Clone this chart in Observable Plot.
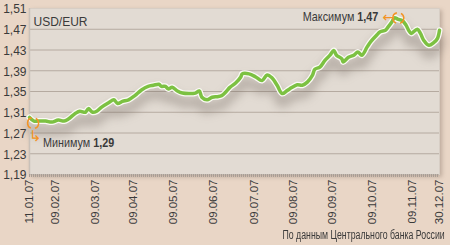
<!DOCTYPE html>
<html><head><meta charset="utf-8">
<script src="https://cdn.jsdelivr.net/npm/d3@7"></script>
<script src="https://cdn.jsdelivr.net/npm/@observablehq/plot@0.6"></script>
<style>
html,body{margin:0;padding:0;background:#e9d6c6;}
#wrap{width:450px;height:245px;overflow:hidden;font-family:"Liberation Sans Narrow","Arial Narrow",sans-serif;}
#caption{height:20px;line-height:20px;text-align:right;padding-right:5px;font-size:12.5px;color:#3a3a3a;font-family:"Liberation Sans",Arial,sans-serif;}
#caption span{display:inline-block;transform:scaleX(0.7);transform-origin:right center;white-space:nowrap;}
</style></head><body><div id="wrap"><div id="chart"></div><div id="caption"><span></span></div></div>
<script>
const dates = ["2007-01-11","2007-01-16","2007-01-21","2007-01-29","2007-02-05","2007-02-11","2007-02-15","2007-02-18","2007-02-23","2007-02-26",
"2007-03-02","2007-03-04","2007-03-07","2007-03-10","2007-03-14","2007-03-20","2007-03-24","2007-03-27","2007-03-31","2007-04-05",
"2007-04-10","2007-04-15","2007-04-20","2007-04-24","2007-04-28","2007-04-30","2007-05-03","2007-05-05","2007-05-08","2007-05-12",
"2007-05-16","2007-05-21","2007-05-26","2007-05-29","2007-05-31","2007-06-04","2007-06-08","2007-06-12","2007-06-15","2007-06-18",
"2007-06-21","2007-06-25","2007-06-29","2007-06-30","2007-07-05","2007-07-10","2007-07-15","2007-07-19","2007-07-23","2007-07-27",
"2007-07-31","2007-08-04","2007-08-08","2007-08-12","2007-08-16","2007-08-20","2007-08-24","2007-08-26","2007-08-30","2007-09-03",
"2007-09-07","2007-09-10","2007-09-12","2007-09-16","2007-09-17","2007-09-21","2007-09-25","2007-09-28","2007-10-01","2007-10-05",
"2007-10-08","2007-10-12","2007-10-15","2007-10-19","2007-10-21","2007-10-24","2007-10-26","2007-10-29","2007-11-01","2007-11-04",
"2007-11-06","2007-11-08","2007-11-18","2007-11-24","2007-11-30","2007-12-10","2007-12-19","2007-12-26","2007-12-30"];
const rates = [1.300,1.293,1.293,1.293,1.291,1.295,1.293,1.297,1.308,1.312,
1.310,1.317,1.310,1.312,1.320,1.329,1.334,1.327,1.331,1.334,
1.342,1.353,1.360,1.362,1.364,1.360,1.360,1.355,1.358,1.351,
1.347,1.346,1.347,1.351,1.339,1.334,1.339,1.340,1.342,1.349,
1.358,1.366,1.378,1.384,1.384,1.378,1.371,1.382,1.376,1.362,
1.346,1.352,1.358,1.363,1.362,1.368,1.381,1.393,1.397,1.410,
1.420,1.429,1.420,1.413,1.407,1.416,1.420,1.426,1.420,1.436,
1.447,1.458,1.465,1.468,1.474,1.484,1.492,1.489,1.487,1.478,
1.468,1.462,1.470,1.462,1.449,1.439,1.444,1.452,1.468];
const xTicks = ["2007-01-11","2007-02-09","2007-03-09","2007-04-09","2007-05-09","2007-06-09","2007-07-09","2007-08-09","2007-09-09","2007-10-09","2007-11-09","2007-12-30"];
const yTicks = [1.19,1.23,1.27,1.31,1.35,1.39,1.43,1.47,1.51];
const seriesName = "USD/EUR";
const minText = ["Минимум", "1,29"];
const minPoint = {date: "2007-01-15", value: 1.289};
const maxText = ["Максимум", "1,47"];
const maxPoint = {date: "2007-10-29", value: 1.4915};
const source = "По данным Центрального банка России";

const data = dates.map((d, i) => ({date: new Date(d), rate: rates[i]}));
const tickDates = xTicks.map(d => new Date(d));
const minP = [{date: new Date(minPoint.date), value: minPoint.value}];
const maxP = [{date: new Date(maxPoint.date), value: maxPoint.value}];
const orange = "#f39324";
const green = "#7cc142";
const curve = "catmull-rom";
const narrow = '"Liberation Sans Narrow","Arial Narrow",sans-serif';
const wide = '"Liberation Sans",Arial,sans-serif';

const plot = Plot.plot({
  width: 450, height: 225,
  marginLeft: 29, marginRight: 11, marginTop: 8, marginBottom: 51,
  style: {background: "transparent", fontFamily: narrow, color: "#3a3a3a"},
  x: {type: "utc", domain: tickDates, range: [29, 55, 95, 133, 173, 213, 254, 293, 332, 372, 412, 439]},
  y: {domain: [yTicks[0], yTicks[yTicks.length - 1]]},
  marks: [
    Plot.frame({fill: "#e2dbd3", stroke: "#d7cec5"}),
    Plot.gridY(yTicks.slice(1, -1), {stroke: "#b5aaa0", strokeOpacity: 1}),
    Plot.line(data, {x: "date", y: "rate", stroke: "#6a5e56", strokeWidth: 10, strokeOpacity: 0.35, dy: 9, curve}),
    Plot.ruleX([tickDates[0]], {stroke: "#c9c1b9", strokeWidth: 1.5}),
    Plot.ruleY([yTicks[0]], {stroke: "#c4bab1"}),
    Plot.ruleY([yTicks[0]], {stroke: "#a89e95", strokeWidth: 3, strokeDasharray: "1,1", dy: 1}),
    Plot.line(data, {x: "date", y: "rate", stroke: "#fbfaf5", strokeWidth: 6, curve}),
    Plot.line(data, {x: "date", y: "rate", stroke: green, strokeWidth: 3.5, curve}),
    Plot.axisY(yTicks, {tickSize: 0, tickPadding: 3, fontSize: 12, tickFormat: d => d.toFixed(2).replace(".", ","), dy: 1}),
    Plot.axisX(tickDates, {tickSize: 0, tickPadding: 5, tickRotate: -90, fontSize: 11.5, tickFormat: d3.utcFormat("%d.%m.%y")}),
    Plot.text([seriesName], {frameAnchor: "top-left", dx: 4, dy: 9, textAnchor: "start", fontSize: 12}),
    Plot.dot(minP, {x: "date", y: "value", r: 5.5, stroke: orange, strokeWidth: 1.5, fill: "none", strokeDasharray: "6.5,4.3,13,4.3,6.5,0"}),
    Plot.text(minP, {x: "date", y: "value", text: () => "↳", fill: orange, fontSize: 15, dx: -4, dy: 13, textAnchor: "start", fontFamily: "DejaVu Sans"}),
    Plot.text(minP, {x: "date", y: "value", text: () => minText.join(" "), dx: 10, dy: 20, textAnchor: "start", fontSize: 13, fontFamily: wide}),
    Plot.dot(maxP, {x: "date", y: "value", r: 5.5, stroke: orange, strokeWidth: 1.5, fill: "none", strokeDasharray: "6.5,4.3,13,4.3,6.5,0"}),
    Plot.text(maxP, {x: "date", y: "value", text: () => "←", fill: orange, fontSize: 14, dx: -4, dy: -1, textAnchor: "end", fontFamily: "DejaVu Sans"}),
    Plot.text(maxP, {x: "date", y: "value", text: () => maxText.join(" "), dx: -20, dy: -1, textAnchor: "end", fontSize: 13, fontFamily: wide})
  ]
});

document.getElementById("chart").appendChild(plot);
document.querySelector("#caption span").textContent = source;

// bold numbers inside annotation texts; whole text narrowed like the original condensed face
d3.select(plot).selectAll("text").each(function() {
  const t = this.textContent;
  for (const pair of [minText, maxText]) {
    if (t === pair.join(" ")) {
      const s = d3.select(this);
      s.text(null);
      s.append("tspan").text(pair[0] + "\u00a0");
      s.append("tspan").attr("font-weight", "bold").text(pair[1]);
      const tr = this.getAttribute("transform");
      if (tr) {
        this.setAttribute("transform", tr + " scale(0.83,1)");
      } else {
        const x = +this.getAttribute("x") || 0, y = +this.getAttribute("y") || 0;
        this.removeAttribute("x"); this.removeAttribute("y");
        this.setAttribute("transform", `translate(${x},${y}) scale(0.83,1)`);
      }
    }
  }
});
// soften the shadow line and the panel
d3.select(plot).selectAll('g[stroke="#6a5e56"]').style("filter", "blur(5px)");
d3.select(plot).selectAll('rect[fill="#e2dbd3"], g[fill="#e2dbd3"] rect').style("filter", "drop-shadow(2px 2px 2px rgba(90,70,60,0.3))");
</script></body></html>
